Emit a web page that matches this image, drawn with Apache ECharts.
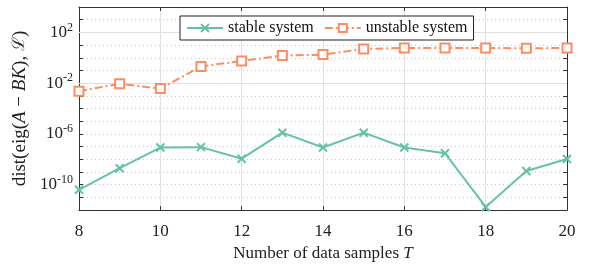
<!DOCTYPE html>
<html>
<head>
<meta charset="utf-8">
<script src="https://cdn.jsdelivr.net/npm/echarts@6/dist/echarts.min.js"></script>
<style>
  * { margin: 0; padding: 0; }
  #chart { width: 607px; height: 267px; background: #fff; }
</style>
</head>
<body>
<div id="chart"></div>
<script>
const samples = [8, 9, 10, 11, 12, 13, 14, 15, 16, 17, 18, 19, 20];
// log10 of the distances
const stableExp = [-10.4, -8.7, -7.07, -7.04, -7.95, -5.9, -7.07, -5.9, -7.07, -7.52, -11.75, -8.92, -7.97];
const unstableExp = [-2.63, -2.05, -2.43, -0.68, -0.25, 0.17, 0.25, 0.7, 0.77, 0.77, 0.77, 0.75, 0.77];
const labelledExps = [-10, -6, -2, 2];

const serif = "Liberation Serif";
const green = "#66c2a5";
const orange = "#fc8d62";

const toPoints = (exps) => samples.map((t, i) => [t, Math.pow(10, exps[i])]);

const chart = echarts.init(document.getElementById("chart"), null, { renderer: "canvas" });

const option = {
  animation: false,
  grid: { left: 79, right: 40, top: 7, bottom: 49 },
  legend: {
    top: 16,
    left: 180,
    backgroundColor: "#fff",
    borderColor: "#222",
    borderWidth: 1,
    borderRadius: 0,
    padding: [4, 6, 4, 6],
    itemGap: 10,
    itemWidth: 36,
    itemHeight: 10,
    textStyle: { fontFamily: serif, fontSize: 16, color: "#111" },
    data: ["stable system", "unstable system"],
  },
  xAxis: [
    {
      type: "value",
      min: 8,
      max: 20,
      interval: 2,
      name: "Number of data samples {i|T}",
      nameLocation: "middle",
      nameGap: 33,
      nameTextStyle: {
        fontFamily: serif, fontSize: 17, color: "#222",
        rich: { i: { fontFamily: serif, fontStyle: "italic", fontSize: 17, color: "#222" } },
      },
      axisLine: { lineStyle: { color: "#333", width: 1 } },
      axisTick: { inside: true, length: 4, lineStyle: { color: "#333" } },
      axisLabel: { fontFamily: serif, fontSize: 17, color: "#222", margin: 13 },
      splitLine: { show: true, lineStyle: { color: "#e0e0e0", width: 1 } },
    },
    {
      type: "value",
      position: "top",
      min: 8,
      max: 20,
      interval: 2,
      axisLine: { lineStyle: { color: "#333", width: 1 } },
      axisTick: { inside: true, length: 4, lineStyle: { color: "#333" } },
      axisLabel: { show: false },
      splitLine: { show: false },
    },
  ],
  yAxis: [
    {
      type: "log",
      logBase: 10,
      min: 1e-12,
      max: 1e4,
      interval: 1,
      name: "dist(eig({i|A} − {i|BK}), {s|ℒ})",
      nameLocation: "middle",
      nameGap: 48,
      nameTextStyle: {
        fontFamily: serif, fontSize: 19, color: "#222",
        rich: {
          i: { fontFamily: serif, fontStyle: "italic", fontSize: 19, color: "#222" },
          s: { fontFamily: "DejaVu Serif", fontSize: 17, color: "#222" },
        },
      },
      axisLine: { show: true, lineStyle: { color: "#333", width: 1 } },
      axisTick: { show: true, inside: true, length: 4, lineStyle: { color: "#333" } },
      axisLabel: {
        fontFamily: serif, fontSize: 17, color: "#222", margin: 6,
        formatter: (v) => {
          const e = Math.round(Math.log10(v));
          return labelledExps.includes(e) ? "10{sup|" + e + "}" : "";
        },
        rich: { sup: { fontFamily: serif, fontSize: 12, color: "#222", verticalAlign: "bottom", padding: [0, 0, 10, 0] } },
      },
      splitLine: { show: true, lineStyle: { color: "#c8c8c8", width: 1, type: [1, 3] } },
    },
    {
      type: "log",
      logBase: 10,
      position: "right",
      min: 1e-12,
      max: 1e4,
      interval: 1,
      axisLine: { show: true, lineStyle: { color: "#333", width: 1 } },
      axisTick: { show: true, inside: true, length: 4, lineStyle: { color: "#333" } },
      axisLabel: { show: false },
      splitLine: { show: false },
    },
  ],
  series: [
    {
      name: "stable system",
      type: "line",
      z: 3,
      data: toPoints(stableExp),
      symbol: "path://M0,0L10,10M10,0L0,10",
      symbolSize: 8,
      lineStyle: { color: green, width: 2 },
      itemStyle: { color: green, borderColor: green, borderWidth: 2 },
      markLine: {
        silent: true,
        z: 1,
        symbol: "none",
        label: { show: false },
        lineStyle: { color: "#e0e0e0", width: 1, type: "solid" },
        data: labelledExps.map((e) => ({ yAxis: Math.pow(10, e) })),
      },
    },
    {
      name: "unstable system",
      type: "line",
      z: 3,
      data: toPoints(unstableExp),
      symbol: "rect",
      symbolSize: 9,
      lineStyle: { color: orange, width: 2, type: [8, 3, 2, 3] },
      itemStyle: { color: "#fff", borderColor: orange, borderWidth: 2 },
    },
  ],
};

chart.setOption(option);
</script>
</body>
</html>
